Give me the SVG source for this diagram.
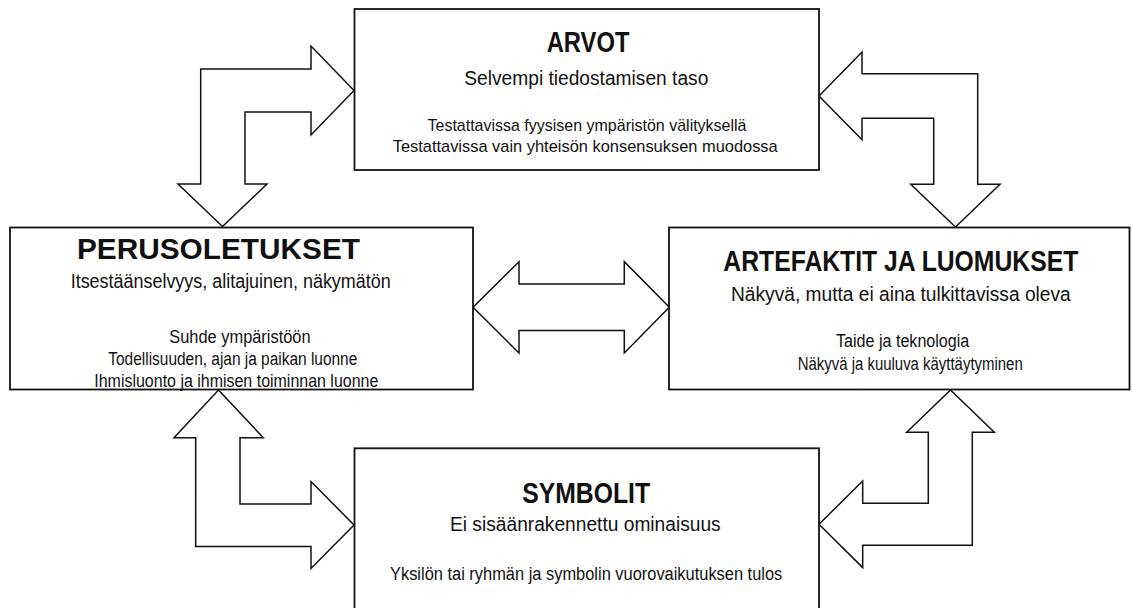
<svg xmlns="http://www.w3.org/2000/svg" width="1133" height="608" viewBox="0 0 1133 608">
<style>
.box{fill:#fff;stroke:#111;stroke-width:1.8}
.arr{fill:#fff;stroke:#111;stroke-width:1.5;stroke-linejoin:miter}
text{font-family:"Liberation Sans",Arial,sans-serif;fill:#111}
.t{font-size:29px;font-weight:bold}
.s{font-size:20px}
.d{font-size:18px}
.d2{font-size:17px}
</style>
<rect width="1133" height="608" fill="#fff"/>
<g id="connectors">
<polygon class="arr" points="354,90.5 311,135 311,112 245,112 245,184 267,184 222.5,226.5 178,184 200.7,184 200.7,69 311,69 311,46"/>
<polygon class="arr" points="819,96 862,52 862,73.7 977.7,73.7 977.7,184.3 1000,184.3 955.5,227 910.7,184.3 933.7,184.3 933.7,118.3 862,118.3 862,139.7"/>
<polygon class="arr" points="218.5,390 263.3,437.7 240,437.7 240,504 311,504 311,481.5 354,525 311,568.5 311,546.5 195.7,546.5 195.7,437.7 174,437.7"/>
<polygon class="arr" points="950.5,390 994.3,432.3 972.3,432.3 972.3,545.3 862.7,545.3 862.7,567.6 819,524.3 862.7,481 862.7,503.3 928.3,503.3 928.3,432.3 906.7,432.3"/>
<polygon class="arr" points="473,307.3 519,261.7 519,284 624.3,284 624.3,261.7 669.3,307.3 624.3,353 624.3,330.5 519,330.5 519,353"/>
</g>
<g id="arvot">
<rect class="box" x="354.5" y="9" width="464.5" height="161"/>
<text class="t" x="546.7" y="51.5" textLength="82.7" lengthAdjust="spacingAndGlyphs">ARVOT</text>
<text class="s" x="464.3" y="84.5" textLength="244" lengthAdjust="spacingAndGlyphs">Selvempi tiedostamisen taso</text>
<text class="d2" x="427.5" y="131" textLength="319" lengthAdjust="spacingAndGlyphs">Testattavissa fyysisen ympäristön välityksellä</text>
<text class="d2" x="392.7" y="151.5" textLength="385" lengthAdjust="spacingAndGlyphs">Testattavissa vain yhteisön konsensuksen muodossa</text>
</g>
<g id="perusoletukset">
<rect class="box" x="10" y="227.5" width="463" height="162"/>
<text class="t" x="77" y="259.3" textLength="283" lengthAdjust="spacingAndGlyphs">PERUSOLETUKSET</text>
<text class="s" x="70.7" y="287.7" textLength="320" lengthAdjust="spacingAndGlyphs">Itsestäänselvyys, alitajuinen, näkymätön</text>
<text class="d" x="169.3" y="342.5" textLength="141.3" lengthAdjust="spacingAndGlyphs">Suhde ympäristöön</text>
<text class="d" x="108.3" y="365" textLength="249" lengthAdjust="spacingAndGlyphs">Todellisuuden, ajan ja paikan luonne</text>
<text class="d" x="94.3" y="387" textLength="284" lengthAdjust="spacingAndGlyphs">Ihmisluonto ja ihmisen toiminnan luonne</text>
</g>
<g id="artefaktit">
<rect class="box" x="669" y="227.5" width="460.5" height="162"/>
<text class="t" x="723.3" y="270.7" textLength="355" lengthAdjust="spacingAndGlyphs">ARTEFAKTIT JA LUOMUKSET</text>
<text class="s" x="731" y="301" textLength="339.7" lengthAdjust="spacingAndGlyphs">Näkyvä, mutta ei aina tulkittavissa oleva</text>
<text class="d" x="836" y="347" textLength="133.3" lengthAdjust="spacingAndGlyphs">Taide ja teknologia</text>
<text class="d" x="797.7" y="370" textLength="225" lengthAdjust="spacingAndGlyphs">Näkyvä ja kuuluva käyttäytyminen</text>
</g>
<g id="symbolit">
<rect class="box" x="354.5" y="448.3" width="464.5" height="165"/>
<text class="t" x="522.3" y="503" textLength="127.7" lengthAdjust="spacingAndGlyphs">SYMBOLIT</text>
<text class="s" x="450" y="531" textLength="270.7" lengthAdjust="spacingAndGlyphs">Ei sisäänrakennettu ominaisuus</text>
<text class="d" x="390" y="579.5" textLength="392.3" lengthAdjust="spacingAndGlyphs">Yksilön tai ryhmän ja symbolin vuorovaikutuksen tulos</text>
</g>
</svg>
